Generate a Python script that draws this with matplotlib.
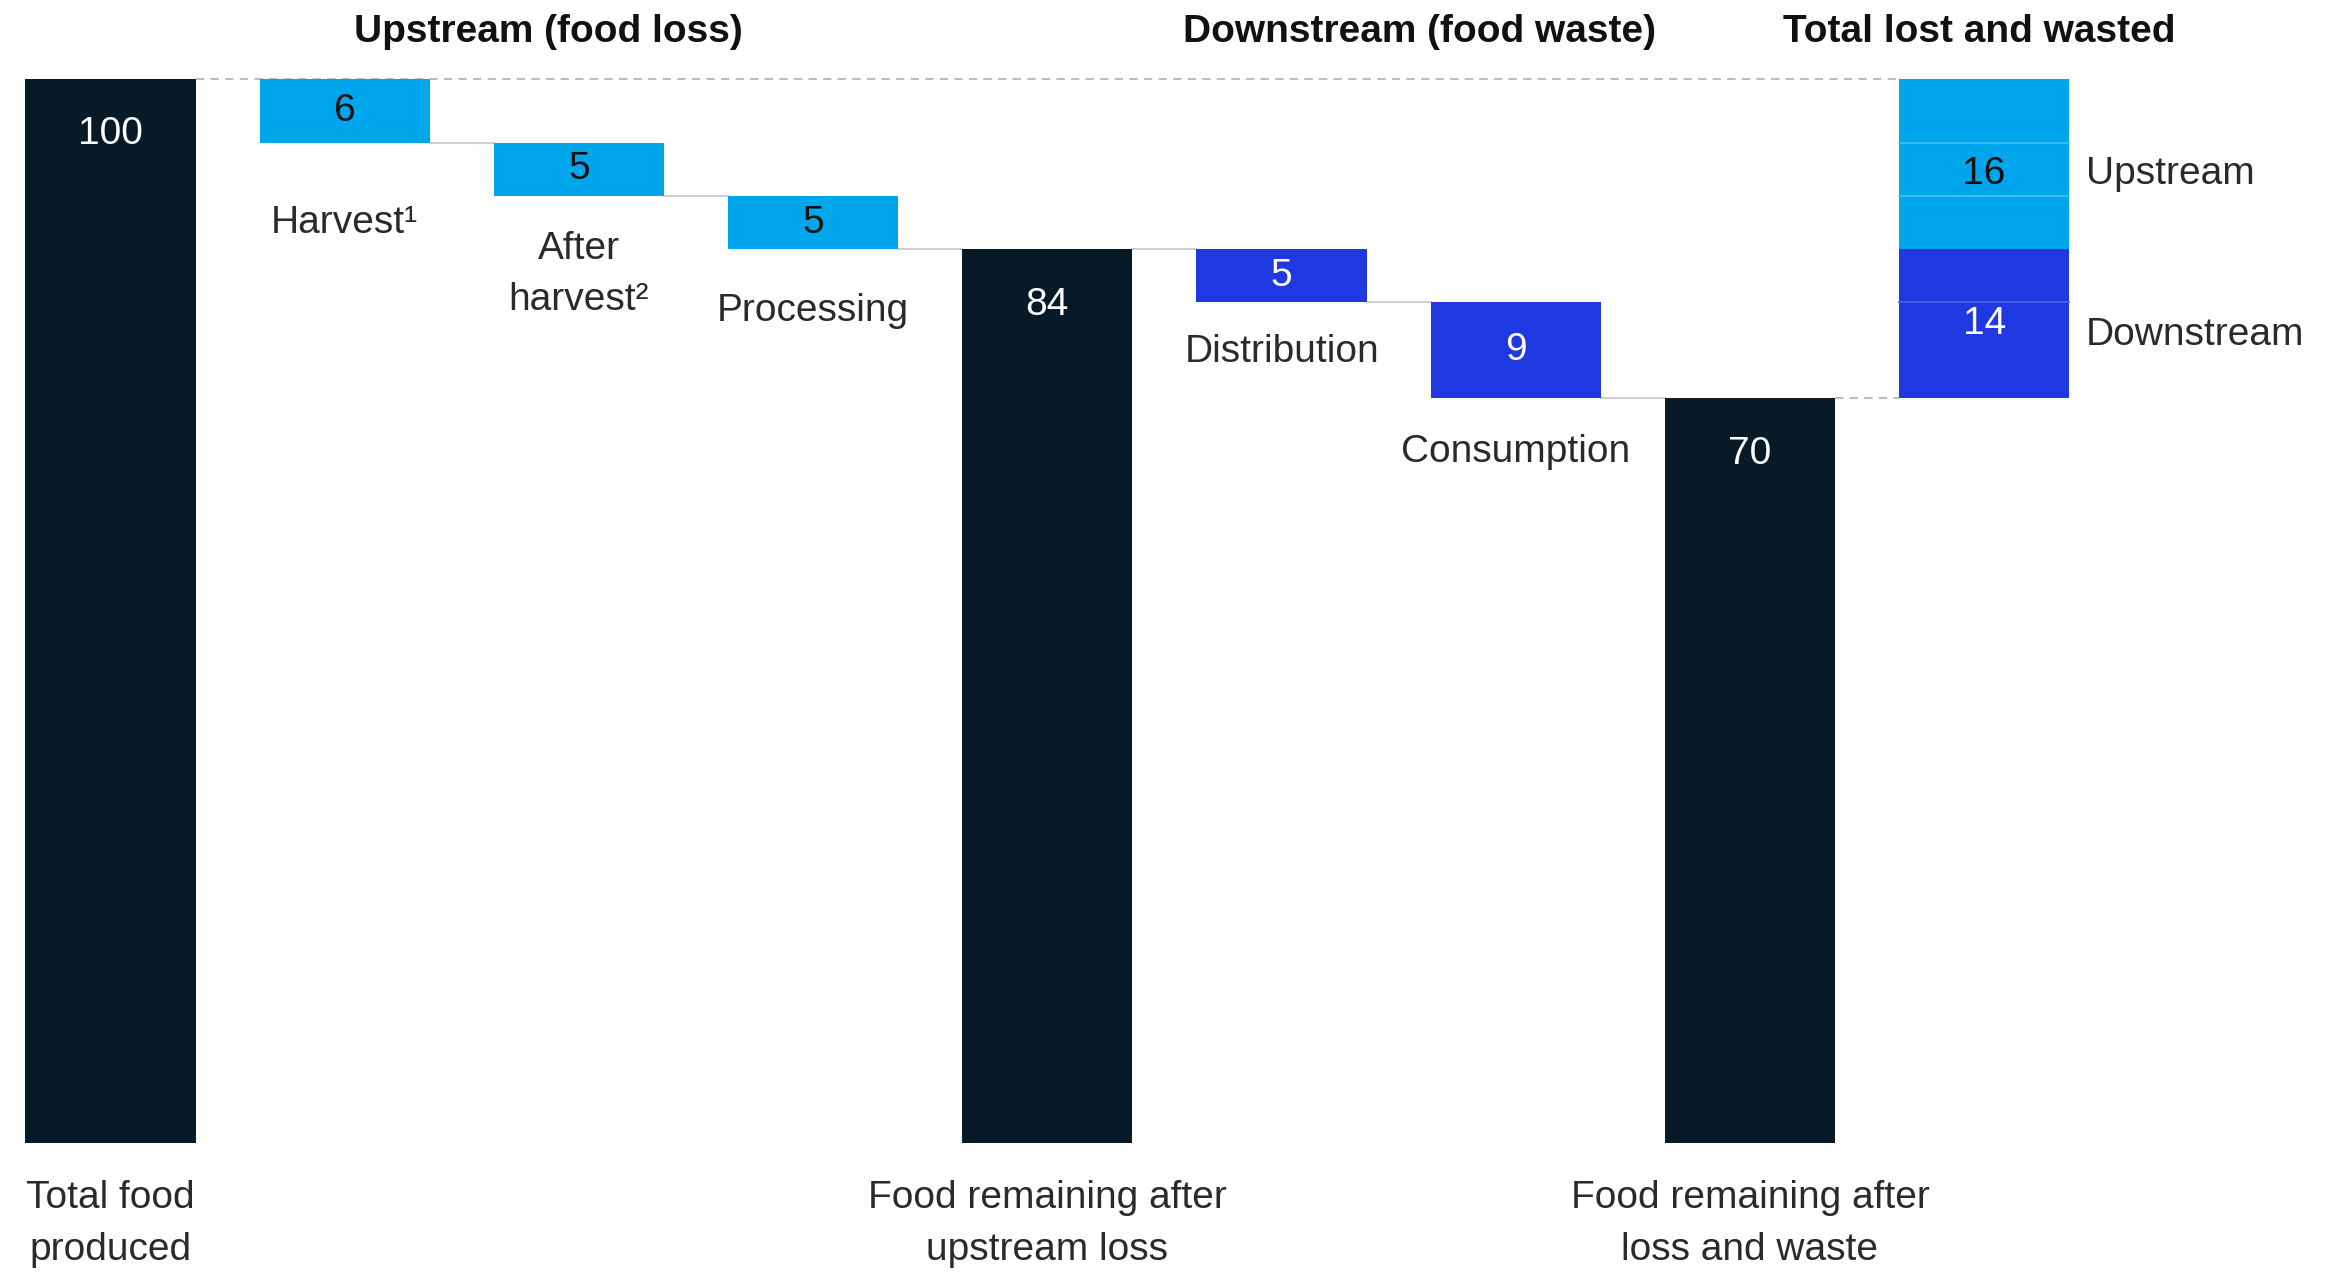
import numpy as np
import matplotlib.pyplot as plt

plt.rcParams['font.family'] = ['Liberation Sans', 'DejaVu Sans']

# Data
total_food = 100
upstream_steps = ['Harvest¹', 'After\nharvest²', 'Processing']
upstream_loss = [6, 5, 5]
downstream_steps = ['Distribution', 'Consumption']
downstream_loss = [5, 9]
total_labels = ['Total food\nproduced',
                'Food remaining after\nupstream loss',
                'Food remaining after\nloss and waste']
group_titles = ['Upstream (food loss)', 'Downstream (food waste)', 'Total lost and wasted']
stack_labels = ['Upstream', 'Downstream']

# Style
DARK = '#071a28'
LIGHT = '#00a6eb'
BLUE = '#1e38e2'
GREY = '#cfcfcf'
TXT = '#2a2a2a'
FS = 28
W = 0.727
LS = 1.55

# how far below each floating bar its label sits
up_drop = [7.5, 7.4, 5.8]
down_drop = [4.7, 5.1]

fig = plt.figure(figsize=(23.28, 12.74), dpi=100)
ax = fig.add_axes([0, 0, 1, 1])
ax.set_xlim(-0.472, 9.468)
ax.set_ylim(-12.31, 107.42)
ax.axis('off')


def total_bar(x, value, label):
    ax.bar(x, value, W, color=DARK, zorder=3)
    ax.text(x, value - 5.2, str(value), ha='center', va='center',
            color='white', fontsize=FS, zorder=4)
    ax.text(x, -7.6, label, ha='center', va='center', color=TXT,
            fontsize=FS, linespacing=LS)


def connector(x_from, x_to, level, dashed=False):
    if dashed:
        ax.plot([x_from + W / 2, x_to - W / 2], [level, level], color='#bdbdbd',
                lw=1.5, ls=(0, (4, 3)), zorder=1)
    else:
        ax.plot([x_from + W / 2, x_to - W / 2], [level, level], color=GREY,
                lw=1.5, zorder=1)


level = total_food
x = 0
total_bar(x, level, total_labels[0])

# upstream losses
for name, v, drop in zip(upstream_steps, upstream_loss, up_drop):
    x += 1
    if x > 1:
        connector(x - 1, x, level)
    ax.bar(x, v, W, bottom=level - v, color=LIGHT, zorder=3)
    ax.text(x, level - v / 2, str(v), ha='center', va='center',
            color='#111111', fontsize=FS, zorder=4)
    ax.text(x, level - v - drop, name, ha='center', va='center',
            color=TXT, fontsize=FS, linespacing=LS)
    level -= v

x += 1
connector(x - 1, x, level)
total_bar(x, level, total_labels[1])

# downstream losses
for name, v, drop in zip(downstream_steps, downstream_loss, down_drop):
    x += 1
    connector(x - 1, x, level)
    ax.bar(x, v, W, bottom=level - v, color=BLUE, zorder=3)
    ax.text(x, level - v / 2, str(v), ha='center', va='center',
            color='white', fontsize=FS, zorder=4)
    ax.text(x, level - v - drop, name, ha='center', va='center',
            color=TXT, fontsize=FS)
    level -= v

x += 1
connector(x - 1, x, level)
total_bar(x, level, total_labels[2])

# stacked total of everything lost and wasted
xs = x + 1
connector(0, xs, total_food, dashed=True)
connector(x, xs, level, dashed=True)

up_total = sum(upstream_loss)
down_total = sum(downstream_loss)
ax.bar(xs, down_total, W, bottom=level, color=BLUE, zorder=3)
ax.bar(xs, up_total, W, bottom=level + down_total, color=LIGHT, zorder=3)

# thin separators between the individual steps inside the stack
for b in np.cumsum(upstream_loss)[:-1]:
    ax.plot([xs - W / 2, xs + W / 2], [total_food - b] * 2, color='#45bff2', lw=1.2, zorder=4)
for b in np.cumsum(downstream_loss)[:-1]:
    ax.plot([xs - W / 2, xs + W / 2], [level + down_total - b] * 2, color='#4a60ea', lw=1.2, zorder=4)

up_y = total_food - up_total / 2 - 0.9
down_y = level + down_total / 2
ax.text(xs, up_y, str(up_total), ha='center', va='center',
        color='#111111', fontsize=FS, zorder=5)
ax.text(xs, down_y, str(down_total), ha='center', va='center',
        color='white', fontsize=FS, zorder=5)
ax.text(xs + W / 2 + 0.07, up_y, stack_labels[0],
        ha='left', va='center', color=TXT, fontsize=FS)
ax.text(xs + W / 2 + 0.07, down_y - 1.1, stack_labels[1],
        ha='left', va='center', color=TXT, fontsize=FS)

# group headers
ax.text(1.87, 104.4, group_titles[0], ha='center', va='center',
        fontsize=FS, fontweight='bold', color='#111111')
ax.text(5.59, 104.4, group_titles[1], ha='center', va='center',
        fontsize=FS, fontweight='bold', color='#111111')
ax.text(7.98, 104.4, group_titles[2], ha='center', va='center',
        fontsize=FS, fontweight='bold', color='#111111')

fig.savefig('out.png', dpi=100)
